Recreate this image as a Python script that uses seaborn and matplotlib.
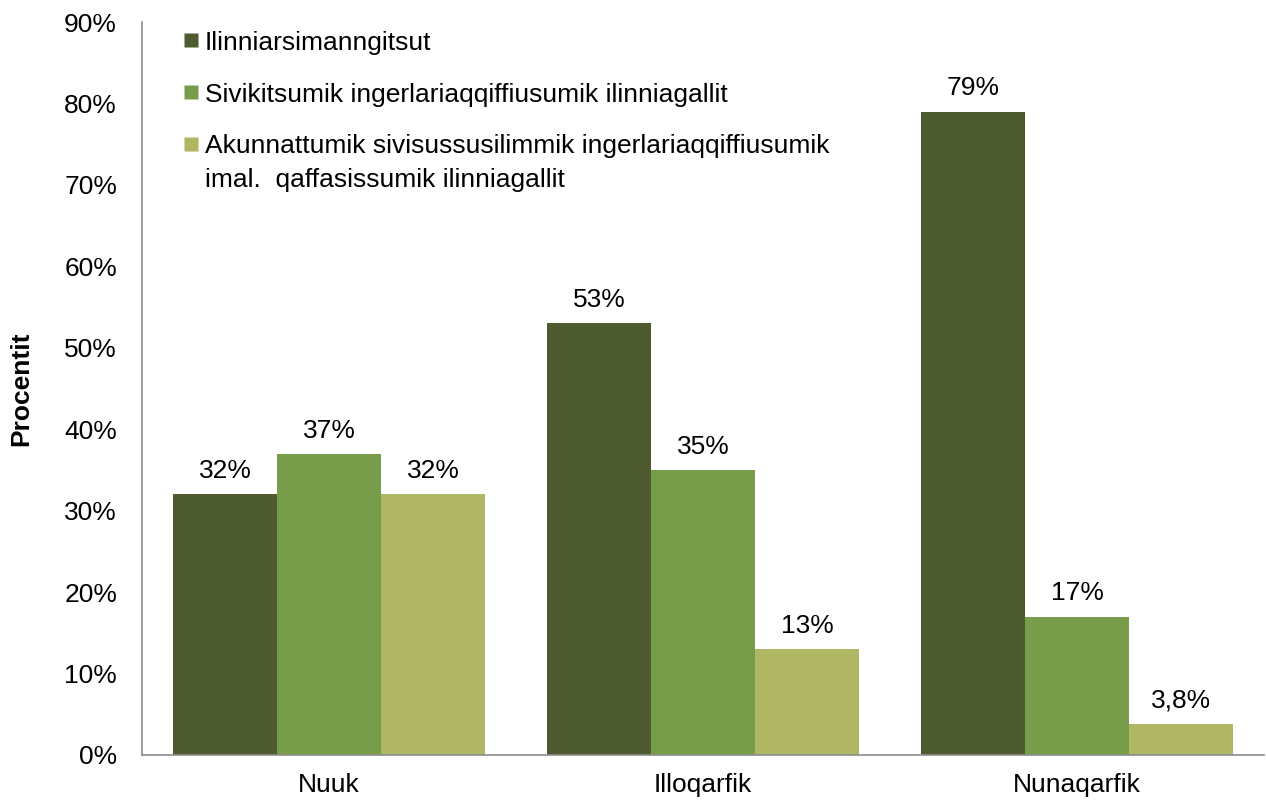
import matplotlib
matplotlib.use("Agg")
import matplotlib.pyplot as plt
import seaborn as sns
import pandas as pd
from matplotlib.lines import Line2D

categories = ["Nuuk", "Illoqarfik", "Nunaqarfik"]
series_names = [
    "Ilinniarsimanngitsut",
    "Sivikitsumik ingerlariaqqiffiusumik ilinniagallit",
    "Akunnattumik sivisussusilimmik ingerlariaqqiffiusumik\nimal.  qaffasissumik ilinniagallit",
]
s1 = [32, 53, 79]
s2 = [37, 35, 17]
s3 = [32, 13, 3.8]
value_labels = [["32%", "53%", "79%"], ["37%", "35%", "17%"], ["32%", "13%", "3,8%"]]
yticks = [0, 10, 20, 30, 40, 50, 60, 70, 80, 90]
colors = ["#4E5B31", "#789D4A", "#AFB765"]

rows = []
for name, vals in zip(series_names, [s1, s2, s3]):
    for c, v in zip(categories, vals):
        rows.append({"cat": c, "series": name, "value": v})
df = pd.DataFrame(rows)

sns.set_theme(style="white")
plt.rcParams["font.family"] = ["Liberation Sans", "DejaVu Sans"]
plt.rcParams["text.color"] = "black"

FS = 19

fig = plt.figure(figsize=(12.66, 8.02), dpi=100)
ax = fig.add_axes([142 / 1266, 47 / 802, (1264 - 142) / 1266, (755 - 22) / 802])

sns.barplot(data=df, x="cat", y="value", hue="series", order=categories,
            hue_order=series_names, palette=colors, width=0.834, ax=ax,
            legend=False, edgecolor="none", linewidth=0, saturation=1)

for cont, labs in zip(ax.containers, value_labels):
    ax.bar_label(cont, labels=labs, padding=8, fontsize=FS, color="black")

ax.set_xlim(-0.5, 2.5)
ax.set_ylim(0, 90)
ax.set_yticks(yticks)
ax.set_yticklabels([f"{t}%" for t in yticks], fontsize=FS)
ax.tick_params(axis="y", length=0, pad=18, labelcolor="black")
ax.tick_params(axis="x", length=0, pad=13, labelsize=FS, labelcolor="black")
ax.set_xlabel("")
ax.set_ylabel("Procentit", fontsize=FS, fontweight="bold", labelpad=22, color="black")

for side in ["top", "right"]:
    ax.spines[side].set_visible(False)
for side in ["left", "bottom"]:
    ax.spines[side].set_color("#8C8C8C")
    ax.spines[side].set_linewidth(1.2)

handles = [Line2D([0], [0], marker="s", linestyle="none", markersize=10,
                  markerfacecolor=c, markeredgecolor="none") for c in colors]
leg = ax.legend(handles, series_names, loc="upper left",
                bbox_to_anchor=(41 / 1122, 1 - 9 / 733),
                frameon=False, fontsize=FS, handlelength=0.6, handletextpad=0.22,
                labelspacing=1.05, borderaxespad=0, borderpad=0)
for t in leg.get_texts():
    t.set_color("black")
    t.set_linespacing(1.5)
# align handles with the first line of each label
try:
    for col in leg._legend_handle_box.get_children():
        for hp in col.get_children():
            hp.align = "top"
except Exception:
    pass

fig.savefig("out.png", dpi=100)
